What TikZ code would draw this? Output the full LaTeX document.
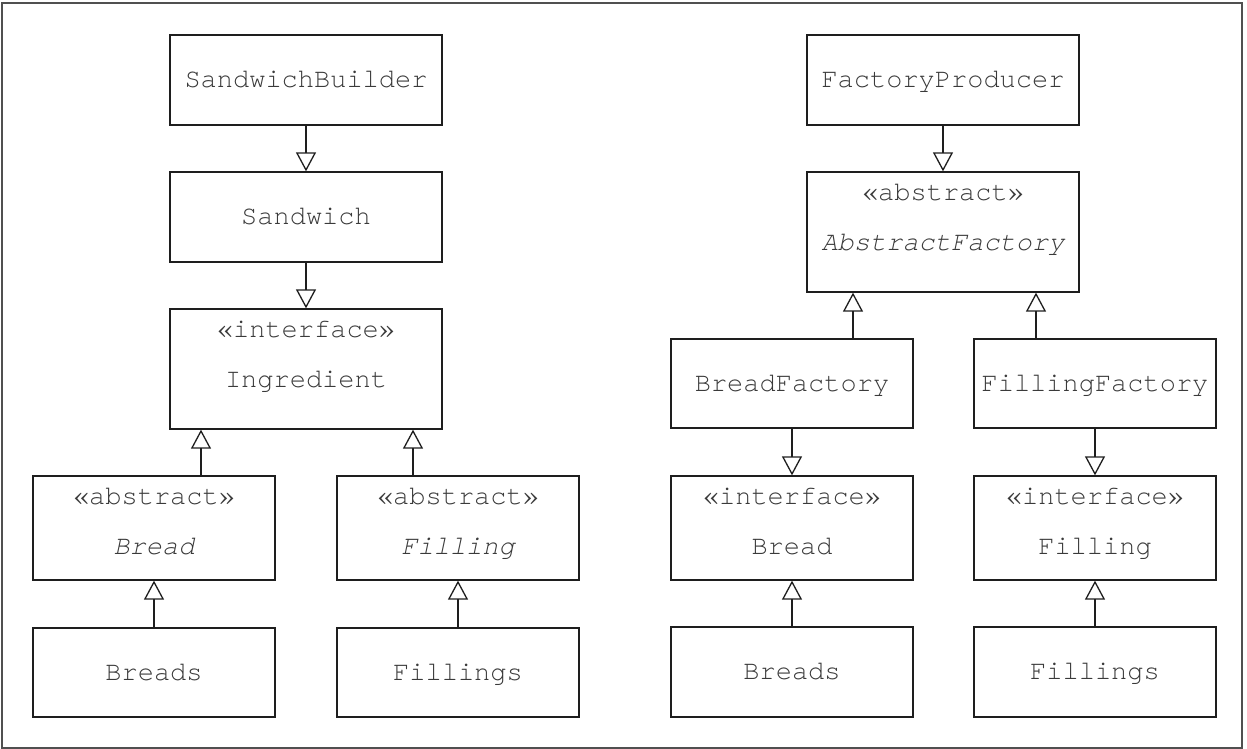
\documentclass[tikz,border=0pt]{standalone}
\usepackage{fontspec}
\setmonofont{TeX Gyre Cursor}
\usetikzlibrary{arrows.meta}
\definecolor{linec}{HTML}{1E1E1E}
\definecolor{textc}{HTML}{3A3A3A}
\definecolor{framec}{HTML}{505050}
\newcommand{\umlfont}{\fontsize{27}{32}\selectfont\ttfamily}
\begin{document}
\begin{tikzpicture}[x=1pt,y=-1pt,
  umlbox/.style={draw=linec, line width=1.3pt, rectangle, inner sep=0pt,
    font=\umlfont, text=textc, text height=18pt, text depth=2.6pt},
  wide/.style={minimum width=272pt},
  narrow/.style={minimum width=242pt},
  umltext/.style={inner sep=0pt, font=\umlfont, text=textc, text height=18pt, text depth=2.6pt},
  gen/.style={draw=linec, line width=1.3pt, -{Triangle[open, length=19pt, width=20pt]}}]
\useasboundingbox (0,0) rectangle (1247,749);
\node[draw=framec, line width=1.2pt, rectangle, inner sep=0pt, minimum width=1240pt, minimum height=745pt] (frame) at (622,375.5) {};

% left diagram
\node[umlbox, wide, minimum height=90pt] (sb) at (306,80) {SandwichBuilder};
\node[umlbox, wide, minimum height=90pt] (sw) at (306,217) {Sandwich};
\node[umlbox, wide, minimum height=120pt] (ingr) at (306,369) {};
\node[umltext] (ingrS) at ([yshift=-21.8pt]ingr.north) {«interface»};
\node[umltext] (ingrN) at ([yshift=-71.3pt]ingr.north) {Ingredient};
\node[umlbox, narrow, minimum height=104pt] (bread) at (154,528) {};
\node[umltext] (breadS) at ([yshift=-21.8pt]bread.north) {«abstract»};
\node[umltext] (breadN) at ([yshift=-71.3pt]bread.north) {\itshape Bread};
\node[umlbox, narrow, minimum height=104pt] (fill) at (458,528) {};
\node[umltext] (fillS) at ([yshift=-21.8pt]fill.north) {«abstract»};
\node[umltext] (fillN) at ([yshift=-71.3pt]fill.north) {\itshape Filling};
\node[umlbox, narrow, minimum height=89pt] (breads) at (154,672.5) {Breads};
\node[umlbox, narrow, minimum height=89pt] (fills) at (458,672.5) {Fillings};

% right diagram
\node[umlbox, wide, minimum height=90pt] (fp) at (943,80) {FactoryProducer};
\node[umlbox, wide, minimum height=120pt] (af) at (943,232) {};
\node[umltext] (afS) at ([yshift=-21.8pt]af.north) {«abstract»};
\node[umltext] (afN) at ([yshift=-71.3pt]af.north) {\itshape AbstractFactory};
\node[umlbox, narrow, minimum height=89pt] (bf) at (792,383.5) {BreadFactory};
\node[umlbox, narrow, minimum height=89pt] (ff) at (1095,383.5) {FillingFactory};
\node[umlbox, narrow, minimum height=104pt] (bi) at (792,528) {};
\node[umltext] (biS) at ([yshift=-21.8pt]bi.north) {«interface»};
\node[umltext] (biN) at ([yshift=-71.3pt]bi.north) {Bread};
\node[umlbox, narrow, minimum height=104pt] (fi) at (1095,528) {};
\node[umltext] (fiS) at ([yshift=-21.8pt]fi.north) {«interface»};
\node[umltext] (fiN) at ([yshift=-71.3pt]fi.north) {Filling};
\node[umlbox, narrow, minimum height=90pt] (breads2) at (792,672) {Breads};
\node[umlbox, narrow, minimum height=90pt] (fills2) at (1095,672) {Fillings};

% connectors left
\draw[gen] (sb.south) -- (sw.north);
\draw[gen] (sw.south) -- (ingr.north);
\draw[gen] ([xshift=47pt]bread.north) -- ([xshift=47pt]bread.north |- ingr.south);
\draw[gen] ([xshift=-45pt]fill.north) -- ([xshift=-45pt]fill.north |- ingr.south);
\draw[gen] (breads.north) -- (bread.south);
\draw[gen] (fills.north) -- (fill.south);

% connectors right
\draw[gen] (fp.south) -- (af.north);
\draw[gen] ([xshift=61pt]bf.north) -- ([xshift=61pt]bf.north |- af.south);
\draw[gen] ([xshift=-59pt]ff.north) -- ([xshift=-59pt]ff.north |- af.south);
\draw[gen] (bf.south) -- (bi.north);
\draw[gen] (ff.south) -- (fi.north);
\draw[gen] (breads2.north) -- (bi.south);
\draw[gen] (fills2.north) -- (fi.south);
\end{tikzpicture}
\end{document}
